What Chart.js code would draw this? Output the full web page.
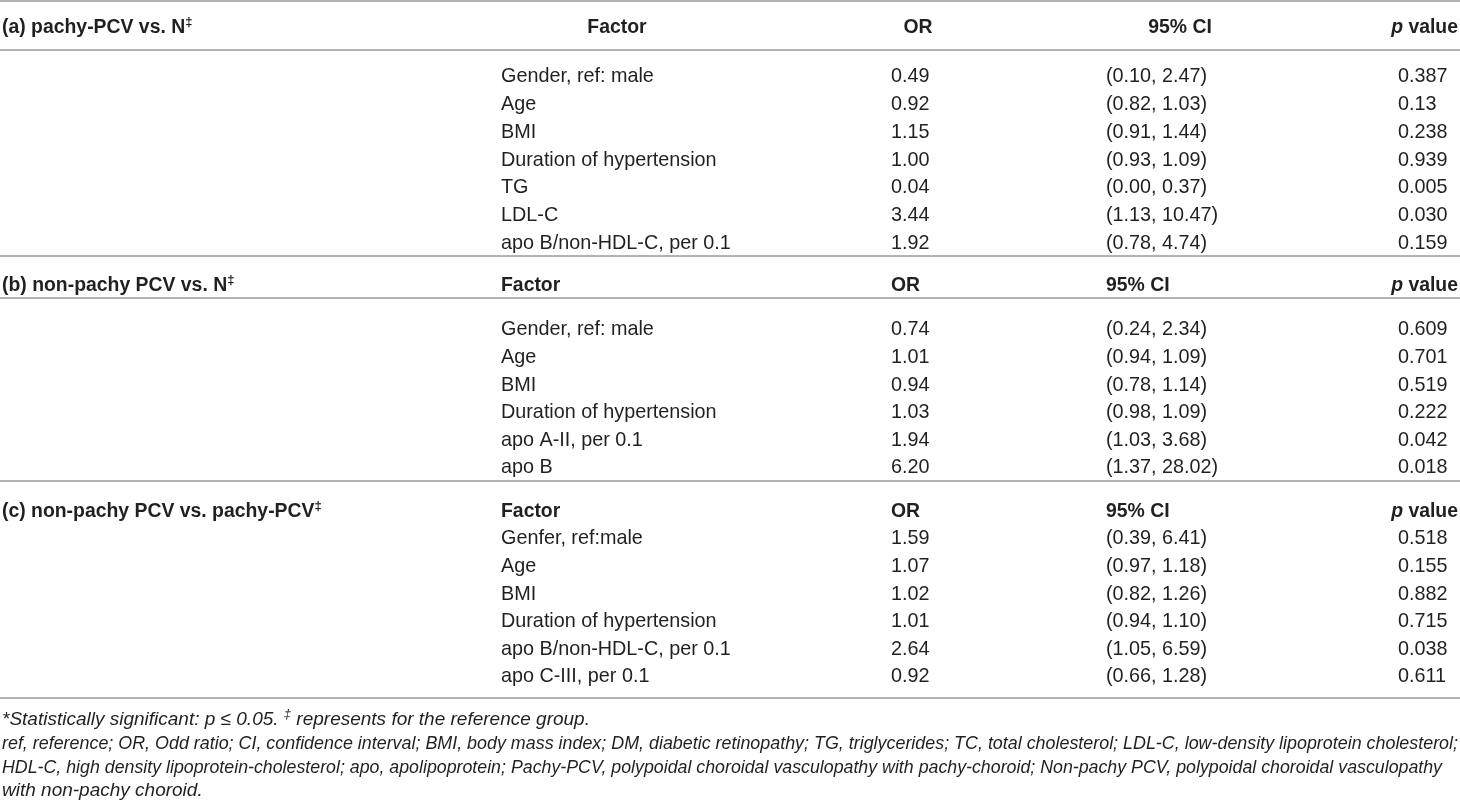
<!DOCTYPE html>
<html>
<head>
<meta charset="utf-8">
<script src="https://cdn.jsdelivr.net/npm/chart.js@4.4.0/dist/chart.umd.min.js"></script>
<style>
  html, body { margin: 0; padding: 0; background: #fff; }
  #wrap { width: 1460px; height: 807px; position: relative; }
</style>
</head>
<body>
<div id="wrap"><canvas id="myTable"></canvas></div>
<script>
// table contents
const titles = ['(a) pachy-PCV vs. N', '(b) non-pachy PCV vs. N', '(c) non-pachy PCV vs. pachy-PCV'];
const headers = ['Factor', 'OR', '95% CI', 'p value'];

const factorsA = ['Gender, ref: male', 'Age', 'BMI', 'Duration of hypertension', 'TG', 'LDL-C', 'apo B/non-HDL-C, per 0.1'];
const orA = ['0.49', '0.92', '1.15', '1.00', '0.04', '3.44', '1.92'];
const ciA = ['(0.10, 2.47)', '(0.82, 1.03)', '(0.91, 1.44)', '(0.93, 1.09)', '(0.00, 0.37)', '(1.13, 10.47)', '(0.78, 4.74)'];
const pA = ['0.387', '0.13', '0.238', '0.939', '0.005', '0.030', '0.159'];

const factorsB = ['Gender, ref: male', 'Age', 'BMI', 'Duration of hypertension', 'apo A-II, per 0.1', 'apo B'];
const orB = ['0.74', '1.01', '0.94', '1.03', '1.94', '6.20'];
const ciB = ['(0.24, 2.34)', '(0.94, 1.09)', '(0.78, 1.14)', '(0.98, 1.09)', '(1.03, 3.68)', '(1.37, 28.02)'];
const pB = ['0.609', '0.701', '0.519', '0.222', '0.042', '0.018'];

const factorsC = ['Genfer, ref:male', 'Age', 'BMI', 'Duration of hypertension', 'apo B/non-HDL-C, per 0.1', 'apo C-III, per 0.1'];
const orC = ['1.59', '1.07', '1.02', '1.01', '2.64', '0.92'];
const ciC = ['(0.39, 6.41)', '(0.97, 1.18)', '(0.82, 1.26)', '(0.94, 1.10)', '(1.05, 6.59)', '(0.66, 1.28)'];
const pC = ['0.518', '0.155', '0.882', '0.715', '0.038', '0.611'];

const notes = [
    'ref, reference; OR, Odd ratio; CI, confidence interval; BMI, body mass index; DM, diabetic retinopathy; TG, triglycerides; TC, total cholesterol; LDL-C, low-density lipoprotein cholesterol;',
    'HDL-C, high density lipoprotein-cholesterol; apo, apolipoprotein; Pachy-PCV, polypoidal choroidal vasculopathy with pachy-choroid; Non-pachy PCV, polypoidal choroidal vasculopathy',
    'with non-pachy choroid.'
];

// layout (in scale units)
const W = 1460, H = 807;
const colLabel = 2, colFactor = 501, colOR = 891, colCI = 1106, colP = 1398, colRight = 1458;
const sections = [
    { factors: factorsA, or: orA, ci: ciA, p: pA, head: 28, first: 77, step: 27.7, centred: true },
    { factors: factorsB, or: orB, ci: ciB, p: pB, head: 286, first: 330, step: 27.6, centred: false },
    { factors: factorsC, or: orC, ci: ciC, p: pC, head: 512, first: 539, step: 27.6, centred: false }
];
const rules = [1, 50, 256, 298, 481, 698];
const noteY = [720, 744, 768, 791];
const noteMaxW = [1456, 1456, 1440, 1456];

const FONT = '"Liberation Sans", Arial, sans-serif';
const INK = '#231f20';

const tablePlugin = {
    id: 'tablePlugin',
    afterDraw(chart) {
        const c = chart.ctx;
        const xs = chart.scales.x, ys = chart.scales.y;
        const px = v => xs.getPixelForValue(v);
        const py = v => ys.getPixelForValue(v);

        c.save();
        // horizontal rules
        c.strokeStyle = '#9a9a9a';
        c.lineWidth = 1.6;
        rules.forEach(r => {
            c.beginPath();
            c.moveTo(px(0), py(r));
            c.lineTo(px(W), py(r));
            c.stroke();
        });

        c.fillStyle = INK;
        c.textBaseline = 'middle';

        // draws pieces of text one after another, squeezed if wider than maxW
        function runs(x, y, parts, align, maxW) {
            let total = 0;
            parts.forEach(p => { c.font = p.font; total += c.measureText(p.t).width; });
            const k = maxW && total > maxW ? maxW / total : 1;
            total *= k;
            let cx = align === 'right' ? x - total : (align === 'center' ? x - total / 2 : x);
            c.save();
            c.translate(cx, y);
            c.scale(k, 1);
            c.textAlign = 'left';
            let ox = 0;
            parts.forEach(p => {
                c.font = p.font;
                c.fillText(p.t, ox, p.dy || 0);
                ox += c.measureText(p.t).width;
            });
            c.restore();
        }
        const bold = 'bold 19.4px ' + FONT;
        const reg = '19.8px ' + FONT;
        const supB = 'bold 13px ' + FONT;
        const it = 'italic 19px ' + FONT;
        const supI = 'italic 13px ' + FONT;

        sections.forEach((s, i) => {
            const hy = py(s.head);
            runs(px(colLabel), hy, [{ t: titles[i], font: bold }, { t: '\u2021', font: supB, dy: -6 }], 'left');
            const pParts = [{ t: 'p', font: 'italic ' + bold }, { t: ' ' + headers[3].slice(2), font: bold }];
            if (s.centred) {
                runs(px(617), hy, [{ t: headers[0], font: bold }], 'center');
                runs(px(918), hy, [{ t: headers[1], font: bold }], 'center');
                runs(px(1180), hy, [{ t: headers[2], font: bold }], 'center');
            } else {
                runs(px(colFactor), hy, [{ t: headers[0], font: bold }], 'left');
                runs(px(colOR), hy, [{ t: headers[1], font: bold }], 'left');
                runs(px(colCI), hy, [{ t: headers[2], font: bold }], 'left');
            }
            runs(px(colRight), hy, pParts, 'right');

            s.factors.forEach((f, k) => {
                const y = py(s.first + k * s.step);
                c.font = reg;
                c.textAlign = 'left';
                c.fillText(f, px(colFactor), y);
                c.fillText(s.or[k], px(colOR), y);
                c.fillText(s.ci[k], px(colCI), y);
                c.fillText(s.p[k], px(colP), y);
            });
        });

        // footnotes
        runs(px(colLabel), py(noteY[0]), [
            { t: '*Statistically significant: p \u2264 0.05. ', font: it },
            { t: '\u2021', font: supI, dy: -6 },
            { t: ' represents for the reference group.', font: it }
        ], 'left', noteMaxW[0]);
        notes.forEach((n, k) => {
            runs(px(colLabel), py(noteY[k + 1]), [{ t: n, font: it }], 'left', noteMaxW[k + 1]);
        });
        c.restore();
    }
};

const ctx = document.getElementById('myTable');
new Chart(ctx, {
    type: 'scatter',
    data: { datasets: [{ data: [] }] },
    options: {
        responsive: true,
        maintainAspectRatio: false,
        animation: false,
        layout: { padding: 0 },
        scales: {
            x: { type: 'linear', min: 0, max: W, display: false },
            y: { type: 'linear', min: 0, max: H, reverse: true, display: false }
        },
        plugins: {
            legend: { display: false },
            tooltip: { enabled: false }
        }
    },
    plugins: [tablePlugin]
});
</script>
</body>
</html>
